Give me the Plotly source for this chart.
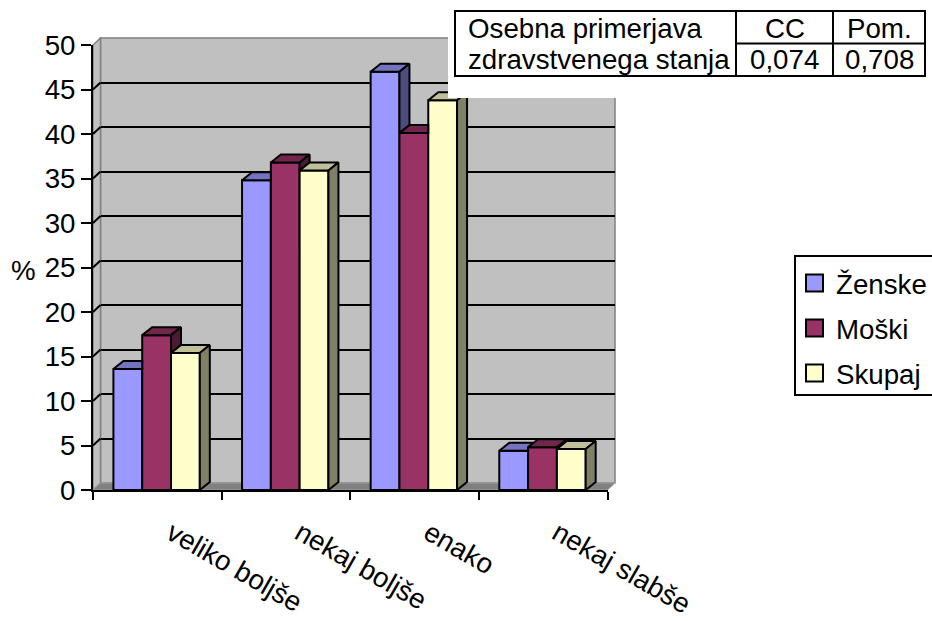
import plotly.graph_objects as go

# ---------------- data ----------------
categories = ["veliko boljše", "nekaj boljše", "enako", "nekaj slabše"]
series_names = ["Ženske", "Moški", "Skupaj"]
zenske = [13.6, 34.8, 47.0, 4.4]
moski = [17.4, 36.8, 40.1, 4.8]
skupaj = [15.4, 35.9, 43.8, 4.6]
y_ticks = [0, 5, 10, 15, 20, 25, 30, 35, 40, 45, 50]
table_title = ["Osebna primerjava", "zdravstvenega stanja"]
table_cols = ["CC", "Pom."]
table_vals = ["0,074", "0,708"]

series_values = [zenske, moski, skupaj]
front_colors = ["#9999FF", "#993366", "#FFFFCC"]
top_colors = ["#7373BF", "#73264D", "#BFBF99"]
side_colors = ["#4D4D80", "#4D1A33", "#808066"]

# ---------------- geometry ----------------
W, H = 932, 621
ML, MR, MT, MB = 93, 317, 38, 131
PW, PH = W - ML - MR, H - MT - MB
FW, FH = 514.5, 445.0          # front plane size in px
OX, OY = 7.5, 7.0              # wall depth offset in px
YMAX = 50.0
NCAT = len(categories)
xu = NCAT / FW                 # category units per px
yu = YMAX / FH                 # value units per px
DX, DY = 10 * xu, 8 * yu       # bar depth
BW = 28.8 * xu
START = -43.9 * xu
LABEL_SHIFT = 14 * xu
FONT = "Arial, Liberation Sans, sans-serif"
FS = 27.7


def pp(px, py):
    return (px - ML) / PW, (H - MB - py) / PH


fig = go.Figure()

# invisible trace to materialise the back-wall subplot
fig.add_trace(go.Scatter(x=[0], y=[0], xaxis="x", yaxis="y", mode="markers",
                         marker=dict(opacity=0), hoverinfo="skip", showlegend=False))

xpos = list(range(NCAT))
for i, name in enumerate(series_names):
    fig.add_trace(go.Bar(
        x=xpos, y=series_values[i], name=name, xaxis="x2", yaxis="y2",
        offset=START + i * BW, width=BW,
        marker=dict(color=front_colors[i], line=dict(color="black", width=2)),
        showlegend=False,
    ))


def poly_xy(pts):
    xs, ys = [], []
    for p in pts:
        xs.append(p[0]); ys.append(p[1])
    xs.append(pts[0][0]); ys.append(pts[0][1])
    return xs, ys


for i, name in enumerate(series_names):
    tx, ty, sx, sy = [], [], [], []
    for j in range(NCAT):
        v = series_values[i][j]
        xl = j + START + i * BW
        xr = xl + BW
        vn = series_values[i + 1][j] if i + 1 < len(series_names) else None
        if vn is None or v >= vn:
            top = [(xl, v), (xr, v), (xr + DX, v + DY), (xl + DX, v + DY)]
        elif vn >= v + DY:
            top = [(xl, v), (xr, v), (xr, v + DY), (xl + DX, v + DY)]
        else:
            xc = xr + (v + DY - vn) / DY * DX
            top = [(xl, v), (xr, v), (xr, vn), (xc, v + DY), (xl + DX, v + DY)]
        a, b = poly_xy(top)
        tx += a + [None]; ty += b + [None]
        side = None
        if vn is None:
            side = [(xr, 0), (xr + DX, DY), (xr + DX, v + DY), (xr, v)]
        elif v > vn:
            side = [(xr, vn), (xr + DX, vn + DY), (xr + DX, v + DY), (xr, v)]
        if side:
            a, b = poly_xy(side)
            sx += a + [None]; sy += b + [None]
    fig.add_trace(go.Scatter(x=tx, y=ty, xaxis="x2", yaxis="y2", mode="lines",
                             fill="toself", fillcolor=top_colors[i],
                             line=dict(color="black", width=2),
                             hoverinfo="skip", showlegend=False))
    if sx:
        fig.add_trace(go.Scatter(x=sx, y=sy, xaxis="x2", yaxis="y2", mode="lines",
                                 fill="toself", fillcolor=side_colors[i],
                                 line=dict(color="black", width=2),
                                 hoverinfo="skip", showlegend=False))

shapes = []
# back wall
bx0, by0 = pp(ML + OX, H - MB - OY)
shapes.append(dict(type="rect", xref="paper", yref="paper", x0=bx0, y0=by0, x1=1, y1=1,
                   fillcolor="#C0C0C0", line=dict(color="#808080", width=1.5), layer="below"))
# left wall
lx = OX / PW
fy = FH / PH
oy = OY / PH
shapes.append(dict(type="path", xref="paper", yref="paper",
                   path=f"M0,0 L0,{fy} L{lx},{1} L{lx},{oy} Z",
                   fillcolor="#C0C0C0", line=dict(color="#808080", width=1.5), layer="below"))
# floor
fx = FW / PW
shapes.append(dict(type="path", xref="paper", yref="paper",
                   path=f"M0,0 L{fx},0 L{1},{oy} L{lx},{oy} Z",
                   fillcolor="#808080", line=dict(color="#A0A0A0", width=1), layer="below"))
# side-wall gridline stubs
for t in y_ticks[1:-1]:
    shapes.append(dict(type="line", xref="paper", yref="y2", x0=0, x1=lx,
                       y0=t, y1=t + OY * yu, line=dict(color="black", width=2), layer="below"))

# table cover and borders
cx0, cy0 = pp(448, 98)
cx1, cy1 = pp(935, -2)
shapes.append(dict(type="rect", xref="paper", yref="paper", x0=cx0, y0=cy0, x1=cx1, y1=cy1,
                   fillcolor="white", line=dict(width=0), layer="above"))
tx0, ty0 = pp(455, 76)
tx1, ty1 = pp(925, 11)
shapes.append(dict(type="rect", xref="paper", yref="paper", x0=tx0, y0=ty0, x1=tx1, y1=ty1,
                   fillcolor="rgba(0,0,0,0)", line=dict(color="black", width=2), layer="above"))
for cxp in (736, 833):
    a, _ = pp(cxp, 0)
    shapes.append(dict(type="line", xref="paper", yref="paper", x0=a, x1=a, y0=ty0, y1=ty1,
                       line=dict(color="black", width=2), layer="above"))
a0, mid = pp(736, 43.5)
shapes.append(dict(type="line", xref="paper", yref="paper", x0=a0, x1=tx1, y0=mid, y1=mid,
                   line=dict(color="black", width=2), layer="above"))

annotations = []


def ann(text, px, py, xanchor="center"):
    ax_, ay_ = pp(px, py)
    annotations.append(dict(text=text, x=ax_, y=ay_, xref="paper", yref="paper",
                            xanchor=xanchor, yanchor="middle", showarrow=False,
                            font=dict(family=FONT, size=FS, color="black")))


ann(table_title[0], 466, 28, "left")
ann(table_title[1], 466, 60, "left")
ann(table_cols[0], 784.5, 28)
ann(table_cols[1], 879, 28)
ann(table_vals[0], 784.5, 60)
ann(table_vals[1], 879, 60)
ann("%", 23.5, 270)

# legend box (drawn by hand so it can run past the right edge like the original)
lgx0, lgy0 = pp(795, 395)
lgx1, lgy1 = pp(936, 256)
shapes.append(dict(type="rect", xref="paper", yref="paper", x0=lgx0, y0=lgy0, x1=lgx1, y1=lgy1,
                   fillcolor="white", line=dict(color="black", width=2), layer="above"))
for i, name in enumerate(series_names):
    cy = 283 + 45 * i
    sx0, sy0 = pp(806, cy + 8.5)
    sx1, sy1 = pp(823, cy - 8.5)
    shapes.append(dict(type="rect", xref="paper", yref="paper", x0=sx0, y0=sy0, x1=sx1, y1=sy1,
                       fillcolor=front_colors[i], line=dict(color="black", width=2), layer="above"))
    ann(name, 834, cy + 1, "left")

fig.update_layout(
    width=W, height=H,
    margin=dict(l=ML, r=MR, t=MT, b=MB, pad=0, autoexpand=False),
    paper_bgcolor="white", plot_bgcolor="rgba(0,0,0,0)",
    barmode="overlay",
    font=dict(family=FONT, size=FS, color="black"),
    shapes=shapes, annotations=annotations,
    showlegend=False,
    xaxis=dict(domain=[OX / PW, 1], range=[0, 1], showgrid=False, showticklabels=False,
               zeroline=False, showline=False, ticks="", automargin=False),
    yaxis=dict(domain=[OY / PH, 1], range=[0, YMAX], tickvals=y_ticks[1:-1],
               showgrid=True, gridcolor="black", gridwidth=2, showticklabels=False,
               zeroline=False, showline=False, ticks="", anchor="x", automargin=False),
    xaxis2=dict(domain=[0, FW / PW], range=[-0.5, NCAT - 0.5], anchor="y2",
                tickvals=[k + LABEL_SHIFT for k in xpos], ticktext=categories, tickangle=30,
                ticks="outside", ticklen=14, tickcolor="rgba(0,0,0,0)",
                minor=dict(tickvals=[k - 0.5 for k in range(NCAT + 1)], ticks="outside",
                           ticklen=8, tickwidth=2, tickcolor="black", showgrid=False),
                showgrid=False, zeroline=False, showline=True, linecolor="black", linewidth=2,
                tickfont=dict(family=FONT, size=FS, color="black"), automargin=False),
    yaxis2=dict(domain=[0, FH / PH], range=[0, YMAX], anchor="x2",
                tickvals=y_ticks, ticks="outside", ticklen=10, tickwidth=2, tickcolor="black",
                showgrid=False, zeroline=False, showline=True, linecolor="black", linewidth=2,
                tickfont=dict(family=FONT, size=FS, color="black"), automargin=False),
)

fig.write_html("out.html")
